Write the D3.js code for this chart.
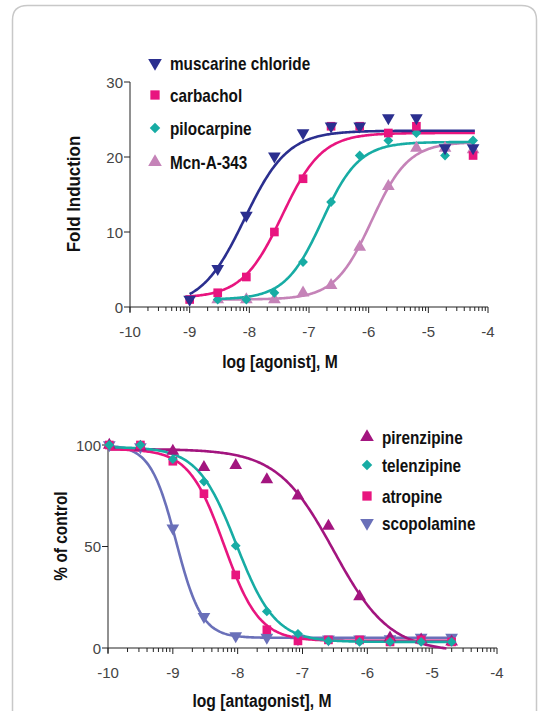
<!DOCTYPE html>
<html>
<head>
<meta charset="utf-8">
<script src="https://cdn.jsdelivr.net/npm/d3@7"></script>
<style>
  body { margin: 0; background: #fff; }
  .tick-label { font-family: "Liberation Sans", Arial, sans-serif; font-size: 15px; fill: #444; }
  .axis-title, .legend text { font-family: "Liberation Sans Narrow", "Arial Narrow", "Liberation Sans", sans-serif; font-weight: bold; fill: #111; }
</style>
</head>
<body>
<div id="chart"></div>
<script>
var width = 549,
    height = 711;

// ---- agonist panel data (log M, fold induction) ----
var agoLogs = [-9, -8.53, -8.05, -7.58, -7.1, -6.63, -6.15, -5.67, -5.2, -4.72, -4.25];
var agoNames = ["muscarine chloride", "carbachol", "pilocarpine", "Mcn-A-343"];
var muscarine = [1, 5.1, 12.2, 20.1, 23.2, 24.1, 24.1, 25.2, 25.2, 21.2, 21.2];
var carbachol = [1, 1.9, 4, 10, 17.1, 24.1, 24.1, 23.2, 24.1, null, 20.2];
var pilocarpine = [null, 1, 1, 1.9, 6, 14, 20.2, 22.2, 23.2, 20.2, 22.2];
var mcnA343 = [null, 1, 1, 1, 1.9, 2.9, 8, 16.1, 21.2, 21.2, 21];
// fitted curves: [bottom, top, logEC50, hill, from, to]
var agoFits = [
  [0, 23.5, -8.08, 1.2, -9, -4.22],
  [1.2, 23.2, -7.45, 1.3, -9, -4.22],
  [1, 22, -6.78, 1.4, -8.53, -4.22],
  [1, 22, -5.95, 1.4, -8.53, -4.22]
];
var agoYTicks = [0, 10, 20, 30];

// ---- antagonist panel data (log M, % of control) ----
var antLogs = [-9.98, -9.5, -9.0, -8.52, -8.03, -7.55, -7.07, -6.6, -6.12, -5.65, -5.17, -4.7];
var antNames = ["pirenzipine", "telenzipine", "atropine", "scopolamine"];
var pirenzipine = [100, 99, 97, 89, 90, 83, 75, 60, 25.3, 5, 4, 3];
var telenzipine = [100, 100, 93, 82, 50.4, 18, 7, 3.5, 3, 3, 3, 3];
var atropine = [100, 100, 92, 76, 36, 9, 3.5, 4, 4, 3, 4, 3];
var scopolamine = [100, 99, 59, 15.4, 6, 5.2, 4.5, 4.4, 4.4, 4.5, 5.2, 5.2];
var antFits = [
  [-2, 98, -6.52, 1.0, -10, -4.78],
  [3, 99, -8.02, 1.45, -10, -4.7],
  [3.5, 98, -8.21, 1.6, -10, -4.7],
  [5, 100, -8.95, 2.2, -10, -4.7]
];
var antYTicks = [0, 50, 100];
var xTicks = [-10, -9, -8, -7, -6, -5, -4];

var svg = d3.select("#chart").append("svg")
    .attr("width", width)
    .attr("height", height);

// card frame
svg.append("path")
    .attr("d", "M12.5," + height + " V20 Q12.5,5.5 27.5,5.5 H521.5 Q536.5,5.5 536.5,20 V" + height)
    .attr("fill", "none")
    .attr("stroke", "#c8c8c8")
    .attr("stroke-width", 1.5);

// condensed bold text (no narrow font installed, so squeeze it)
function narrowText(parent, x, y, txt, sx, rot, anchor) {
  parent.append("text")
      .attr("class", "axis-title")
      .attr("transform", "translate(" + x + "," + y + ")" + (rot ? " rotate(" + rot + ")" : "") + " scale(" + sx + ",1)")
      .attr("text-anchor", anchor || "start")
      .style("font-size", "18px")
      .text(txt);
}

function drawPanel(opt) {
  var x = d3.scaleLinear().domain([-10, -4]).range(opt.xr);
  var y = d3.scaleLinear().domain(opt.yd).range(opt.yr);
  var g = svg.append("g");

  // y axis
  g.append("line").attr("x1", x(-10)).attr("x2", x(-10))
      .attr("y1", y(opt.yd[1])).attr("y2", y(0) + 5)
      .attr("stroke", "#222").attr("stroke-width", 1);
  opt.yTicks.forEach(function(t) {
    g.append("line").attr("x1", x(-10) - 6).attr("x2", x(-10))
        .attr("y1", y(t)).attr("y2", y(t)).attr("stroke", "#222");
    g.append("text").attr("class", "tick-label")
        .attr("x", x(-10) - 7).attr("y", y(t) + 5.5)
        .attr("text-anchor", "end").text(t);
  });

  // x axis with log minor ticks
  g.append("line").attr("x1", x(-10)).attr("x2", x(-4))
      .attr("y1", y(0)).attr("y2", y(0)).attr("stroke", "#222");
  xTicks.forEach(function(t) {
    g.append("line").attr("x1", x(t)).attr("x2", x(t))
        .attr("y1", y(0)).attr("y2", y(0) + 6).attr("stroke", "#222");
    g.append("text").attr("class", "tick-label")
        .attr("x", x(t)).attr("y", y(0) + 30)
        .attr("text-anchor", "middle").text(t);
    if (t < -4) {
      d3.range(2, 10).forEach(function(k) {
        var v = t + Math.log10(k);
        g.append("line").attr("x1", x(v)).attr("x2", x(v))
            .attr("y1", y(0)).attr("y2", y(0) + 4).attr("stroke", "#222");
      });
    }
  });

  narrowText(g, opt.xTitle[0], opt.xTitle[1], opt.xLabel, 0.87, 0, "middle");
  narrowText(g, opt.yTitle[0], opt.yTitle[1], opt.yLabel, opt.yScale, -90, "middle");

  var line = d3.line()
      .x(function(d) { return x(d[0]); })
      .y(function(d) { return y(d[1]); });

  opt.order.forEach(function(i) {
    var f = opt.fits[i];
    var pts = d3.range(f[4], f[5] + 0.001, 0.02).map(function(v) {
      return [v, f[0] + (f[1] - f[0]) / (1 + Math.pow(10, (f[2] - v) * f[3] * opt.dir))];
    });
    g.append("path").attr("d", line(pts))
        .attr("fill", "none").attr("stroke", opt.colors[i]).attr("stroke-width", 2.6);
  });

  opt.order.forEach(function(i) {
    var sym = d3.symbol().type(opt.shapes[i][0]).size(opt.shapes[i][1]);
    g.append("g").selectAll("path")
      .data(opt.series[i].map(function(v, j) { return [opt.logs[j], v]; })
              .filter(function(d) { return d[1] != null; }))
      .enter().append("path")
        .attr("d", sym)
        .attr("transform", function(d) {
          return "translate(" + x(d[0]) + "," + y(d[1]) + ") rotate(" + opt.shapes[i][2] + ")";
        })
        .attr("fill", opt.colors[i]);
  });

  // legend
  var lg = g.append("g").attr("class", "legend");
  opt.names.forEach(function(n, i) {
    var sym = d3.symbol().type(opt.shapes[i][0]).size(opt.shapes[i][1] * 1.15);
    lg.append("path").attr("d", sym)
        .attr("transform", "translate(" + opt.legX + "," + opt.legY[i] + ") rotate(" + opt.shapes[i][2] + ")")
        .attr("fill", opt.colors[i]);
    narrowText(lg, opt.legX + 15, opt.legY[i] + 6.5, n, 0.85);
  });
}

drawPanel({
  xr: [130, 488], yd: [0, 30], yr: [307, 82],
  yTicks: agoYTicks, logs: agoLogs, dir: 1,
  series: [muscarine, carbachol, pilocarpine, mcnA343],
  fits: agoFits, names: agoNames,
  colors: ["#2b2f8f", "#e8157f", "#17aca4", "#c583b8"],
  shapes: [[d3.symbolTriangle, 70, 180], [d3.symbolSquare, 75, 0], [d3.symbolSquare, 48, 45], [d3.symbolTriangle, 70, 0]],
  order: [3, 2, 1, 0],
  xLabel: "log [agonist], M", xTitle: [280, 368],
  yLabel: "Fold Induction", yTitle: [80, 194], yScale: 0.94,
  legX: 155, legY: [63, 95, 128, 162]
});

drawPanel({
  xr: [108, 497], yd: [0, 100], yr: [648, 445],
  yTicks: antYTicks, logs: antLogs, dir: -1,
  series: [pirenzipine, telenzipine, atropine, scopolamine],
  fits: antFits, names: antNames,
  colors: ["#a3157f", "#17aca4", "#e8157f", "#6a70b9"],
  shapes: [[d3.symbolTriangle, 70, 0], [d3.symbolSquare, 48, 45], [d3.symbolSquare, 75, 0], [d3.symbolTriangle, 70, 180]],
  order: [3, 0, 2, 1],
  xLabel: "log [antagonist], M", xTitle: [262, 707],
  yLabel: "% of control", yTitle: [67, 536], yScale: 0.86,
  legX: 367, legY: [437, 465, 496, 523]
});
</script>
</body>
</html>
